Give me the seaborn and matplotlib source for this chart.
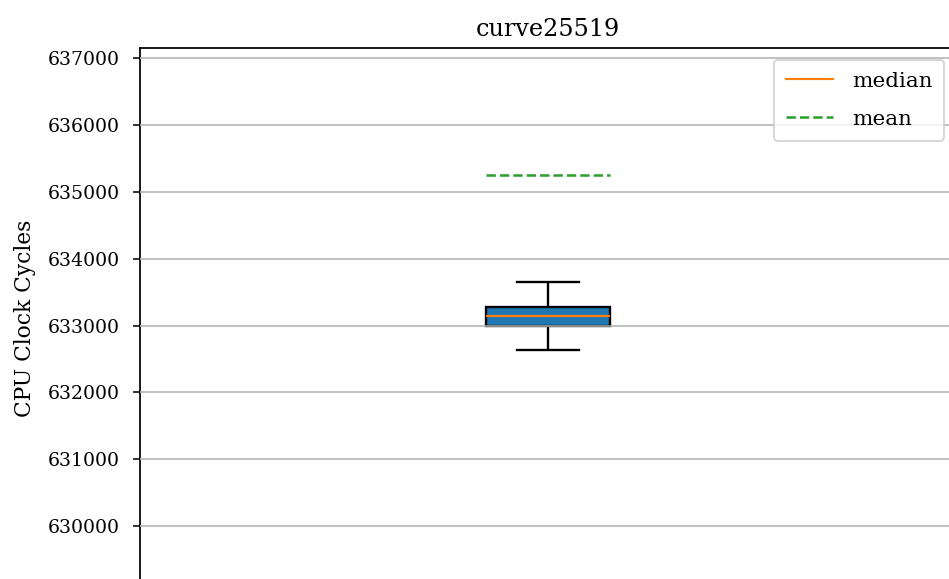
import matplotlib
matplotlib.use("Agg")
import matplotlib.pyplot as plt
from matplotlib.lines import Line2D
from matplotlib.ticker import ScalarFormatter, MultipleLocator
import seaborn as sns
import pandas as pd

# ---- data (CPU clock cycles for curve25519 runs) ----
title = "curve25519"
ylabel = "CPU Clock Cycles"
cycles = [632630, 632850, 632940, 633000, 633050, 633100, 633140,
          633180, 633230, 633280, 633645, 641200, 653005]
legend_labels = ["median", "mean"]

df = pd.DataFrame({"bench": [title] * len(cycles), "cycles": cycles})

plt.rcParams["font.family"] = ["DejaVu Serif"]

DPI = 140
W, H = 949, 579
fig = plt.figure(figsize=(W / DPI, H / DPI), dpi=DPI)
left_px, right_px, top_px, bottom_px = 140, 956, 48, 588
ax = fig.add_axes([left_px / W, 1 - bottom_px / H,
                   (right_px - left_px) / W, (bottom_px - top_px) / H])

sns.boxplot(data=df, x="bench", y="cycles", ax=ax, width=0.152,
            color="#1f77b4", saturation=1, linecolor="black", linewidth=1.2,
            showfliers=False, showmeans=True, meanline=True,
            medianprops={"color": "#ff7f0e", "linewidth": 1.1},
            meanprops={"color": "#2ca02c", "linestyle": "--", "linewidth": 1.3})

ax.set_xlim(-0.5, 0.5)
ax.set_ylim(629075, 637150)
ax.yaxis.set_major_locator(MultipleLocator(1000))
fmt = ScalarFormatter(useOffset=False)
fmt.set_scientific(False)
ax.yaxis.set_major_formatter(fmt)
ax.tick_params(axis="y", labelsize=9.7, pad=7)
ax.set_xticks([])
ax.set_xlabel("")
ax.set_ylabel(ylabel, fontsize=11.2, labelpad=6)
ax.set_title(title, fontsize=12.3)
ax.yaxis.grid(True, color="#b0b0b0", linewidth=0.8)
ax.set_axisbelow(False)
for s in ax.spines.values():
    s.set_linewidth(0.9)

handles = [Line2D([], [], color="#ff7f0e", linewidth=1.1),
           Line2D([], [], color="#2ca02c", linestyle="--", linewidth=1.3)]
ax.legend(handles, legend_labels, loc="upper right", fontsize=11,
          handlelength=2.2, handletextpad=0.9, labelspacing=0.9,
          borderpad=0.55, borderaxespad=0.55)

fig.savefig("out.png", dpi=DPI)
